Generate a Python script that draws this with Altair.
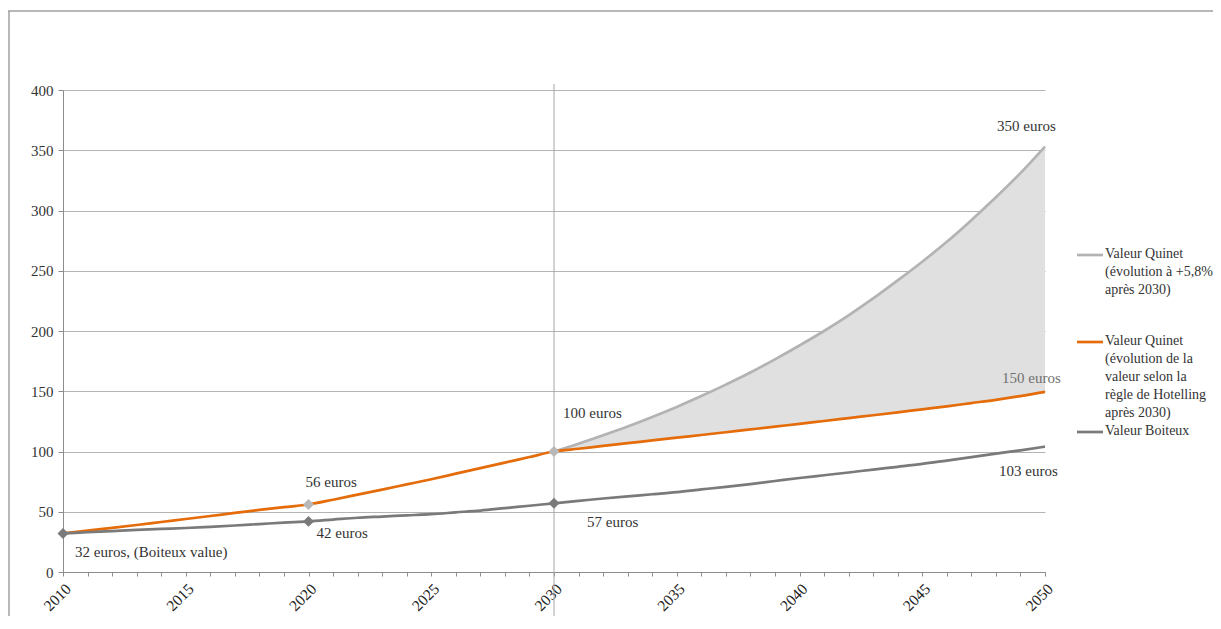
import altair as alt
import pandas as pd

# ---------------- data ----------------
years = list(range(2010, 2051))
quinet_hotelling = [32, 34.3, 36.6, 39, 41.5, 44, 46.5, 49, 51.5, 53.8,
                    56, 60, 64.2, 68.4, 72.7, 77, 81.6, 86.2, 90.8, 95.4,
                    100, 102.3, 104.6, 106.9, 109.2, 111.5, 113.7, 116, 118.3, 120.6,
                    123, 125.3, 127.7, 130.1, 132.5, 135, 137.5, 140.2, 142.9, 146,
                    149.5]
boiteux = [32, 33, 34, 35, 35.8, 36.5, 37.5, 38.6, 39.8, 41,
           42, 43.5, 45, 46, 47, 48, 49.5, 51, 53, 55,
           57, 59, 61, 62.8, 64.5, 66.3, 68.5, 70.7, 73, 75.5,
           78, 80.3, 82.6, 85, 87.3, 89.7, 92.5, 95.3, 98.2, 101,
           104]
years_after = list(range(2030, 2051))
quinet_58 = [100, 106.5, 113.5, 120.8, 128.7, 137, 146, 155.5, 165.5, 176.5,
             188, 200, 213, 227, 242, 257.5, 274, 292, 311, 331,
             353]

series_names = ["Valeur Quinet (+5,8%)", "Valeur Quinet (Hotelling)", "Valeur Boiteux"]
series_colors = ["#b3b3b3", "#e46c0a", "#7a7a7a"]

light_marker_years = [2020, 2030]
light_marker_values = [56, 100]
dark_marker_years = [2010, 2020, 2030]
dark_marker_values = [32, 42, 57]

annot_labels = ["32 euros, (Boiteux value)", "42 euros", "56 euros", "100 euros",
                "57 euros", "350 euros", "150 euros", "103 euros"]
annot_years = [2010, 2020, 2020, 2030, 2030, 2050, 2050, 2050]
annot_values = [32, 42, 56, 100, 57, 350, 150, 103]

legend_labels = [
    "Valeur Quinet\n(évolution à +5,8%\naprès 2030)",
    "Valeur Quinet\n(évolution de la\nvaleur selon la\nrègle de Hotelling\naprès 2030)",
    "Valeur Boiteux",
]

y_ticks = [0, 50, 100, 150, 200, 250, 300, 350, 400]

# ---------------- tables ----------------
W, H = 982, 482
FONT = "Liberation Serif"

rows = []
for y, v in zip(years_after, quinet_58):
    rows.append({"year": y, "value": v, "series": series_names[0]})
for y, v in zip(years, quinet_hotelling):
    rows.append({"year": y, "value": v, "series": series_names[1]})
for y, v in zip(years, boiteux):
    rows.append({"year": y, "value": v, "series": series_names[2]})
lines_df = pd.DataFrame(rows)

hot_after = dict(zip(years, quinet_hotelling))
area_df = pd.DataFrame({
    "year": years_after,
    "upper": quinet_58,
    "lower": [hot_after[y] for y in years_after],
})

x_scale = alt.Scale(domain=[2010, 2050], nice=False, zero=False)
y_scale = alt.Scale(domain=[0, 400], nice=False)

x_axis = alt.Axis(
    values=years,
    labelExpr="datum.value % 5 == 0 ? '' + datum.value : ''",
    labelAngle=-45, labelFont=FONT, labelFontSize=15.5, labelColor="#222222",
    labelOverlap=False, labelFlush=False, labelBound=False, labelPadding=5,
    tickSize=4, tickColor="#8c8c8c", domainColor="#8c8c8c", grid=False, title=None,
)
y_axis = alt.Axis(
    values=y_ticks, labelFont=FONT, labelFontSize=15, labelColor="#333333",
    tickSize=5, tickColor="#8c8c8c", domainColor="#8c8c8c", labelPadding=5,
    grid=True, gridColor="#b4b4b4", title=None,
)


def X(field="year:Q"):
    return alt.X(field, scale=x_scale, axis=x_axis)


def Y(field):
    return alt.Y(field, scale=y_scale, axis=y_axis)


area = alt.Chart(area_df).mark_area(color="#e0e0e0", opacity=1, interpolate="monotone").encode(
    x=X(), y=Y("upper:Q"), y2="lower:Q",
)

vline = alt.Chart(pd.DataFrame({"year": [2030]})).mark_rule(color="#a6a6a6", strokeWidth=1).encode(
    x=X(), y=alt.value(-6), y2=alt.value(H + 44),
)

lines = alt.Chart(lines_df).mark_line(strokeWidth=2.7, interpolate="monotone").encode(
    x=X(), y=Y("value:Q"),
    color=alt.Color("series:N", scale=alt.Scale(domain=series_names, range=series_colors), legend=None),
    order=alt.Order("year:Q"),
)

light_markers = alt.Chart(pd.DataFrame({"year": light_marker_years, "value": light_marker_values})).mark_point(
    shape="diamond", filled=True, size=120, opacity=1, color="#b8b8b8"
).encode(x=X(), y=Y("value:Q"))

dark_markers = alt.Chart(pd.DataFrame({"year": dark_marker_years, "value": dark_marker_values})).mark_point(
    shape="diamond", filled=True, size=120, opacity=1, color="#7a7a7a"
).encode(x=X(), y=Y("value:Q"))

offsets = [(12, 19), (8, 12), (-3, -23), (9, -39), (33, 19), (-48, -24), (-43, -13), (-46, 23)]
annot_colors = ["#333333"] * 6 + ["#707070", "#333333"]
annots = []
for lab, yr, val, (dx, dy), col in zip(annot_labels, annot_years, annot_values, offsets, annot_colors):
    annots.append(
        alt.Chart(pd.DataFrame({"year": [yr], "value": [val], "label": [lab]}))
        .mark_text(align="left", baseline="middle", dx=dx, dy=dy, font=FONT, fontSize=15, color=col)
        .encode(x=X(), y=Y("value:Q"), text="label:N")
    )

# manual legend (positioned in the right margin)
legend_layers = []
leg_y = [165, 252, 342]
for lab, col, ly in zip(legend_labels, series_colors, leg_y):
    legend_layers.append(
        alt.Chart(pd.DataFrame({"a": [0]})).mark_rule(color=col, strokeWidth=2.7).encode(
            x=alt.value(1014), x2=alt.value(1040), y=alt.value(ly)
        )
    )
    legend_layers.append(
        alt.Chart(pd.DataFrame({"t": [lab]})).mark_text(
            align="left", baseline="top", lineBreak="\n", lineHeight=18,
            font=FONT, fontSize=14, color="#333333"
        ).encode(x=alt.value(1042), y=alt.value(ly - 8), text="t:N")
    )

# frame lines of the original chart area
frame = [
    alt.Chart(pd.DataFrame({"a": [0]})).mark_rule(color="#a0a0a0", strokeWidth=1.5).encode(
        x=alt.value(-55), x2=alt.value(W + 168), y=alt.value(-79)
    ),
    alt.Chart(pd.DataFrame({"a": [0]})).mark_rule(color="#a0a0a0", strokeWidth=1.5).encode(
        x=alt.value(-54), y=alt.value(-79), y2=alt.value(H + 44)
    ),
]

chart = alt.layer(area, vline, lines, light_markers, dark_markers, *annots, *legend_layers, *frame).properties(
    width=W, height=H,
    autosize=alt.AutoSizeParams(type="none"),
    padding={"left": 55, "top": 82, "right": 168, "bottom": 44},
    background="white",
).configure_view(stroke=None).configure_axisX(labelOverlap=False)

chart.save("out.html", embed_options={"renderer": "svg", "actions": False})
